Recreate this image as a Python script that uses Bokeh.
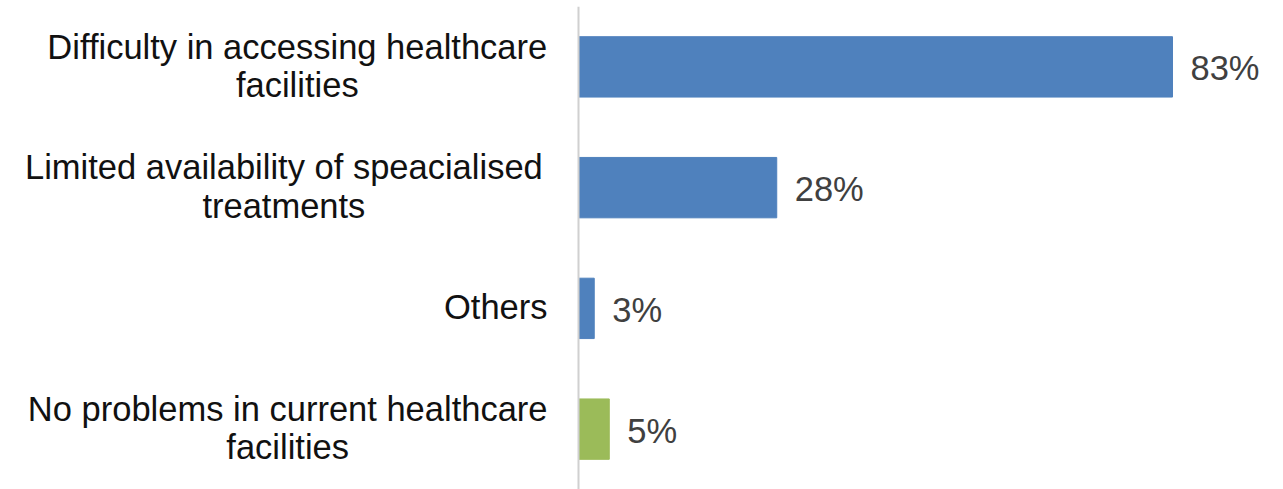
from bokeh.plotting import figure
from bokeh.models import ColumnDataSource, Span, FactorRange, Range1d
from bokeh.core.properties import value
from bokeh.embed import file_html
from bokeh.resources import INLINE

# ---- data ----
categories = [
    "Difficulty in accessing healthcare\nfacilities",
    "Limited availability of speacialised \ntreatments",
    "Others",
    "No problems in current healthcare\nfacilities",
]
bar_values = [83, 27.7, 2.2, 4.3]
value_labels = ["83%", "28%", "3%", "5%"]
bar_colors = ["#4F81BD", "#4F81BD", "#4F81BD", "#9BBB59"]

# ---- layout / style ----
FONT = "Liberation Sans"
FONT_PX = 34.5
LINE_H = 38.5
GAP = 31

# Arial / Liberation Sans advance widths (per 1000 em)
W = {" ": 278, "a": 556, "b": 556, "c": 500, "d": 556, "e": 556, "f": 278, "g": 556,
     "h": 556, "i": 222, "l": 222, "m": 833, "n": 556, "o": 556, "p": 556, "r": 333,
     "s": 500, "t": 278, "u": 556, "v": 500, "y": 500, "D": 722, "L": 556, "N": 722,
     "O": 778}


def text_width(s):
    return sum(W.get(ch, 556) for ch in s) / 1000.0 * FONT_PX


cat_y, cat_text, cat_xo, cat_yo = [], [], [], []
for cat in categories:
    lines = cat.split("\n")
    bw = max(text_width(l) for l in lines)
    n = len(lines)
    for j, line in enumerate(lines):
        cat_y.append(cat)
        cat_text.append(line.rstrip())
        cat_xo.append(-GAP - bw / 2.0)
        cat_yo.append(-1.0 + (j - (n - 1) / 2.0) * LINE_H)

cat_src = ColumnDataSource(dict(x=[0] * len(cat_y), y=cat_y, text=cat_text,
                                xo=cat_xo, yo=cat_yo))
bar_src = ColumnDataSource(dict(y=categories, right=bar_values, color=bar_colors,
                                label=value_labels))

px_per_unit = 594 / 83.0
p = figure(width=1283, height=489,
           x_range=Range1d(-578 / px_per_unit, 705 / px_per_unit),
           y_range=FactorRange(factors=list(reversed(categories))),
           output_backend="svg", toolbar_location=None,
           min_border_left=0, min_border_right=0, min_border_top=6, min_border_bottom=0)
p.xaxis.visible = False
p.yaxis.visible = False
p.xgrid.visible = False
p.ygrid.visible = False
p.outline_line_color = None
p.background_fill_color = "white"
p.border_fill_color = "white"

p.hbar(y="y", left=0, right="right", height=0.5, fill_color="color",
       line_color="color", source=bar_src)

p.add_layout(Span(location=0, dimension="height", line_color="#d0d0d0", line_width=2))

p.text(x="x", y="y", text="text", x_offset="xo", y_offset="yo", source=cat_src,
       text_align="center", text_baseline="alphabetic",
       text_font=value(FONT), text_font_size=f"{FONT_PX}px", text_color="#111111")

p.text(x="right", y="y", text="label", x_offset=18, y_offset=1.5, source=bar_src,
       text_align="left", text_baseline="alphabetic",
       text_font=value(FONT), text_font_size=f"{FONT_PX}px", text_color="#404040")

open("out.html", "w").write(file_html(p, INLINE))
